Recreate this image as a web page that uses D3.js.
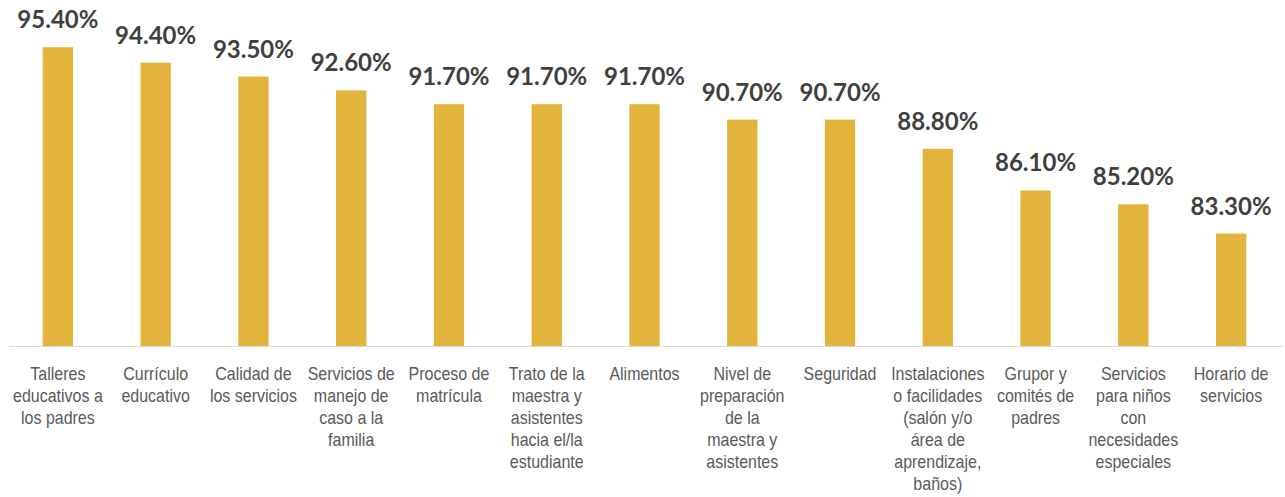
<!DOCTYPE html>
<html>
<head>
<meta charset="utf-8">
<script src="https://cdn.jsdelivr.net/npm/d3@7"></script>
<style>
  body { margin: 0; background: #fff; }
  svg { display: block; }
</style>
</head>
<body>
<svg id="chart" width="1285" height="497"></svg>
<script>
// categories, wrapped the same way the original chart wraps them
const categories = [
  ["Talleres", "educativos a", "los padres"],
  ["Currículo", "educativo"],
  ["Calidad de", "los servicios"],
  ["Servicios de", "manejo de", "caso a la", "familia"],
  ["Proceso de", "matrícula"],
  ["Trato de la", "maestra y", "asistentes", "hacia el/la", "estudiante"],
  ["Alimentos"],
  ["Nivel de", "preparación", "de la", "maestra y", "asistentes"],
  ["Seguridad"],
  ["Instalaciones", "o facilidades", "(salón y/o", "área de", "aprendizaje,", "baños)"],
  ["Grupor y", "comités de", "padres"],
  ["Servicios", "para niños", "con", "necesidades", "especiales"],
  ["Horario de", "servicios"]
];
const values = [95.4, 94.4, 93.5, 92.6, 91.7, 91.7, 91.7, 90.7, 90.7, 88.8, 86.1, 85.2, 83.3];

const BARCOLOR = "#E3B43C";
const svg = d3.select("#chart");
const baseY = 346;

var x = d3.scaleBand()
  .domain(d3.range(values.length))
  .range([9, 1280])
  .padding(0);

var y = d3.scaleLinear()
  .domain([76, 96])
  .range([baseY, baseY - 20 * 15.4]);

var barW = x.bandwidth() * 0.31;

// bars
svg.append("g").selectAll("rect")
  .data(values)
  .enter().append("rect")
    .attr("x", (d, i) => x(i) + x.bandwidth() / 2 - barW / 2)
    .attr("y", d => y(d))
    .attr("width", barW)
    .attr("height", d => y(76) - y(d))
    .attr("fill", BARCOLOR);

// baseline
svg.append("line")
  .attr("x1", 9).attr("x2", 1283)
  .attr("y1", baseY + 0.5).attr("y2", baseY + 0.5)
  .attr("stroke", "#d9d9d9")
  .attr("stroke-width", 1);

// value labels
svg.append("g").selectAll("text")
  .data(values)
  .enter().append("text")
    .attr("x", (d, i) => x(i) + x.bandwidth() / 2)
    .attr("y", d => y(d) - 19)
    .attr("text-anchor", "middle")
    .style("font-family", "Lato, 'Open Sans', sans-serif")
    .style("font-weight", "bold")
    .style("font-size", "24px")
    .style("fill", "#3f3f3f")
    .text(d => d.toFixed(2) + "%");

// category labels (the original font is a tall narrow grotesque, so stretch vertically)
var sy = 1.2;
var cat = svg.append("g").selectAll("text")
  .data(categories)
  .enter().append("text")
    .attr("text-anchor", "middle")
    .attr("transform", (d, i) => "translate(" + (x(i) + x.bandwidth() / 2) + ",380) scale(1," + sy + ")")
    .style("font-family", "'Liberation Sans', Arial, sans-serif")
    .style("font-size", "16px")
    .style("fill", "#5a5a5a");

cat.selectAll("tspan")
  .data(d => d)
  .enter().append("tspan")
    .attr("x", 0)
    .attr("y", (d, i) => i * 22 / sy)
    .text(d => d);
</script>
</body>
</html>
